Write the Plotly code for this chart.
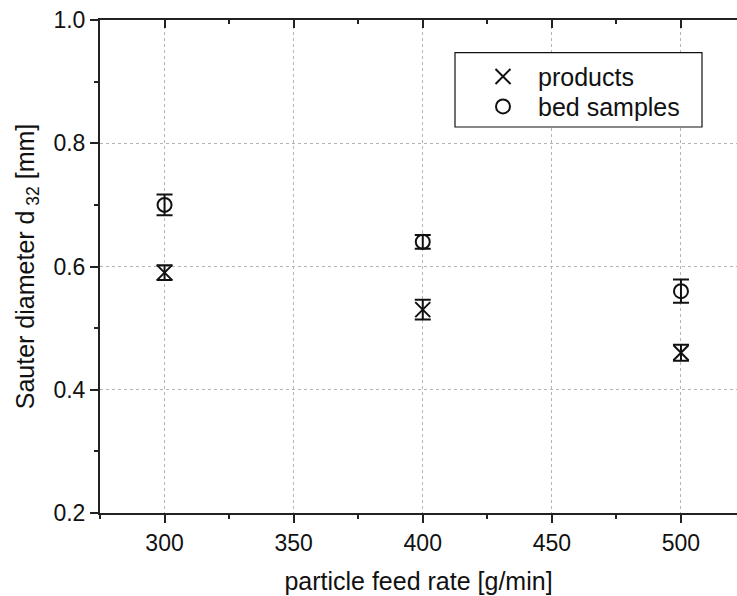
import plotly.graph_objects as go

# Feed rates and measured Sauter diameters (mm) with standard deviations
feed_rate = [300, 400, 500]
products_d32 = [0.59, 0.53, 0.46]
products_err = [0.012, 0.016, 0.013]
bed_d32 = [0.70, 0.64, 0.56]
bed_err = [0.017, 0.011, 0.019]

FONT = "Liberation Sans, Arial, sans-serif"
INK = "#111111"
AXIS = "#222222"

W, H = 737, 596
ML, MR, MT, MB = 100, 0, 20, 83
PW, PH = W - ML - MR, H - MT - MB


def px_x(p):
    return (p - ML) / PW


def px_y(p):
    return (H - MB - p) / PH


fig = go.Figure()

fig.add_trace(go.Scatter(
    x=feed_rate, y=products_d32, name="products", mode="markers",
    marker=dict(symbol="x-thin-open", size=15, color=INK,
                line=dict(width=2, color=INK)),
    error_y=dict(type="data", array=products_err, visible=True,
                 color=INK, thickness=2, width=8),
    legend="legend",
))
fig.add_trace(go.Scatter(
    x=feed_rate, y=bed_d32, name="bed samples", mode="markers",
    marker=dict(symbol="circle-open", size=14, color=INK,
                line=dict(width=2, color=INK)),
    error_y=dict(type="data", array=bed_err, visible=True,
                 color=INK, thickness=2, width=8),
    legend="legend2",
))
# helper trace so the mirrored top axis gets drawn
fig.add_trace(go.Scatter(
    x=[feed_rate[0]], y=[bed_d32[0]], xaxis="x2", mode="markers",
    marker=dict(opacity=0), showlegend=False, hoverinfo="skip",
))

x_range = [275, 521.7]
axis_common = dict(
    showline=True, linewidth=2, linecolor=AXIS,
    tickwidth=2, tickcolor=AXIS, ticklen=8,
    tickfont=dict(family=FONT, size=23, color=INK),
    zeroline=False,
)

legend_common = dict(
    xanchor="left", yanchor="middle",
    bgcolor="rgba(0,0,0,0)", borderwidth=0,
    font=dict(family=FONT, size=25, color=INK),
    itemwidth=60, indentation=13,
)

fig.update_layout(
    width=W, height=H,
    margin=dict(l=ML, r=MR, t=MT, b=MB, pad=0),
    paper_bgcolor="white", plot_bgcolor="white",
    font=dict(family=FONT, color=INK),
    xaxis=dict(
        **axis_common,
        range=x_range, tick0=300, dtick=50, ticks="outside",
        minor=dict(dtick=25, ticks="outside", ticklen=4, tickwidth=2,
                   tickcolor=AXIS, showgrid=False),
        showgrid=True, gridcolor="#b5b5b5", gridwidth=1, griddash="dot",
        title=dict(text="particle feed rate [g/min]", standoff=18,
                   font=dict(family=FONT, size=25, color=INK)),
    ),
    xaxis2=dict(
        overlaying="x", side="top", matches="x", anchor="y",
        showline=True, linewidth=2, linecolor=AXIS,
        ticks="inside", ticklen=8, tickwidth=2, tickcolor=AXIS,
        tick0=300, dtick=50, showticklabels=False, showgrid=False,
        minor=dict(dtick=25, ticks="inside", ticklen=4, tickwidth=2,
                   tickcolor=AXIS, showgrid=False),
        zeroline=False,
    ),
    yaxis=dict(
        **axis_common,
        range=[0.2, 1.0], tick0=0.2, dtick=0.2, tickformat=".1f",
        ticks="outside",
        minor=dict(dtick=0.1, ticks="outside", ticklen=4, tickwidth=2,
                   tickcolor=AXIS, showgrid=False),
        showgrid=True, gridcolor="#b5b5b5", gridwidth=1, griddash="dot",
        title=dict(text="Sauter diameter d<sub> 32</sub> [mm]", standoff=12,
                   font=dict(family=FONT, size=25, color=INK)),
    ),
    legend=dict(**legend_common, x=px_x(455), y=px_y(76.7)),
    legend2=dict(**legend_common, x=px_x(455), y=px_y(106.7)),
    shapes=[dict(
        type="rect", xref="paper", yref="paper",
        x0=px_x(455), x1=px_x(702), y0=px_y(127), y1=px_y(52.7),
        line=dict(color=INK, width=1.2), fillcolor="white", layer="above",
    )],
    showlegend=True,
)

fig.write_html("out.html")
